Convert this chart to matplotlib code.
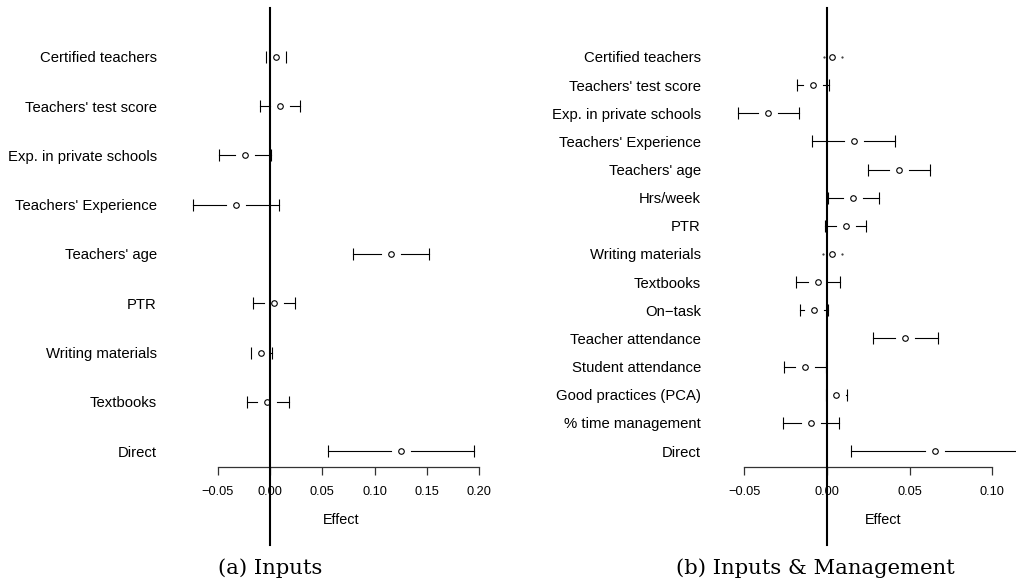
import numpy as np
import matplotlib
matplotlib.use("Agg")
import matplotlib.pyplot as plt

# panel (a): inputs only
inputs_labels = ["Certified teachers", "Teachers' test score", "Exp. in private schools",
                 "Teachers' Experience", "Teachers' age", "PTR", "Writing materials",
                 "Textbooks", "Direct"]
inputs_est = [0.0055, 0.0096, -0.0242, -0.0326, 0.1159, 0.0038, -0.0086, -0.0026, 0.1255]
inputs_low = [-0.0041, -0.0099, -0.0491, -0.0744, 0.0789, -0.0163, -0.0183, -0.0220, 0.0556]
inputs_high = [0.0153, 0.0281, 0.0010, 0.0086, 0.1523, 0.0237, 0.0022, 0.0179, 0.1954]
inputs_ticks = [-0.05, 0.00, 0.05, 0.10, 0.15, 0.20]

# panel (b): inputs & management
mgmt_labels = ["Certified teachers", "Teachers' test score", "Exp. in private schools",
               "Teachers' Experience", "Teachers' age", "Hrs/week", "PTR",
               "Writing materials", "Textbooks", "On\u2212task", "Teacher attendance",
               "Student attendance", "Good practices (PCA)", "% time management", "Direct"]
mgmt_est = [0.0033, -0.0082, -0.0357, 0.0162, 0.0436, 0.0160, 0.0113, 0.0030, -0.0056,
            -0.0081, 0.0474, -0.0135, 0.0057, -0.0097, 0.0653]
mgmt_low = [-0.0020, -0.0181, -0.0540, -0.0091, 0.0248, 0.0006, -0.0010, -0.0024, -0.0190,
            -0.0161, 0.0278, -0.0260, -0.0004, -0.0264, 0.0145]
mgmt_high = [0.0092, 0.0012, -0.0171, 0.0410, 0.0626, 0.0315, 0.0236, 0.0089, 0.0077,
             0.0006, 0.0670, -0.0008, 0.0120, 0.0073, 0.1160]
mgmt_ticks = [-0.05, 0.00, 0.05, 0.10]

W, H = 1016, 588
GAP_PX = 10.0   # white space left around each point estimate


def px_box(x0, x1, ytop, ybot):
    return [x0 / W, 1 - ybot / H, (x1 - x0) / W, (ybot - ytop) / H]


def whisker(ax, bound, end, y):
    # bar from the interval bound to just short of the point, capped at the bound
    ax.plot([bound, end], [y, y], color="black", lw=0.8, clip_on=False)
    ax.plot([bound], [y], marker="|", ms=8, mew=0.8, color="black", clip_on=False)


def stub(ax, bound, y):
    # interval bound that falls inside the gap: only a speck is left
    ax.plot([bound], [y], marker="s", ms=0.6, color="#444444", clip_on=False)


def draw_panel(ax, labels, est, low, high, ticks, label_pad, effect_x):
    n = len(labels)
    y = np.arange(n)
    ext = 0.04 * (n - 1)
    ax.set_xlim(ticks[0], ticks[-1])
    ax.set_ylim(n - 1 + ext, -ext)

    px = ax.transData.transform((1, 0))[0] - ax.transData.transform((0, 0))[0]
    gap = GAP_PX / px

    for i in range(n):
        if est[i] - gap - low[i] >= 0:
            whisker(ax, low[i], est[i] - gap, y[i])
        else:
            stub(ax, low[i], y[i])
        if high[i] - est[i] - gap >= 0:
            whisker(ax, high[i], est[i] + gap, y[i])
        else:
            stub(ax, high[i], y[i])

    ax.plot(est, y, "o", ms=4, mfc="white", mec="black", mew=0.8, clip_on=False, zorder=3)

    # zero line runs past the plot region
    ax.plot([0, 0], [1.078, -0.184], color="black", lw=1.5,
            transform=ax.get_xaxis_transform(), clip_on=False, zorder=4)

    for s in ["left", "top", "right"]:
        ax.spines[s].set_visible(False)
    ax.spines["bottom"].set_bounds(ticks[0], ticks[-1])
    ax.spines["bottom"].set_linewidth(0.9)
    ax.spines["bottom"].set_color("#333333")
    ax.set_xticks(ticks)
    ax.set_xticklabels([f"{t:.2f}".replace("-", "\u2212") for t in ticks], fontsize=9.2)
    ax.tick_params(axis="x", length=5.5, width=0.9, color="#333333", pad=8)
    ax.set_yticks(y)
    ax.set_yticklabels(labels, fontsize=10.7)
    ax.tick_params(axis="y", length=0, pad=label_pad)
    ax.text(effect_x, -0.125, "Effect", transform=ax.get_xaxis_transform(),
            ha="center", va="center", fontsize=10.4)


def main():
    plt.rcParams["font.family"] = ["Liberation Sans", "DejaVu Sans"]
    fig = plt.figure(figsize=(W / 100, H / 100), dpi=100)

    ax1 = fig.add_axes(px_box(218, 479, 41.2, 466.8))
    draw_panel(ax1, inputs_labels, inputs_est, inputs_low, inputs_high, inputs_ticks,
               label_pad=44.1, effect_x=0.068)

    ax2 = fig.add_axes(px_box(744.3, 992.3, 41.2, 466.8))
    draw_panel(ax2, mgmt_labels, mgmt_est, mgmt_low, mgmt_high, mgmt_ticks,
               label_pad=31.2, effect_x=0.034)

    fig.text(270 / W, 1 - 568 / H, "(a) Inputs", ha="center", va="center",
             family="DejaVu Serif", fontsize=15.2)
    fig.text(815 / W, 1 - 568 / H, "(b) Inputs & Management", ha="center", va="center",
             family="DejaVu Serif", fontsize=15.2)

    fig.savefig("out.png", dpi=100)


if __name__ == "__main__":
    main()
